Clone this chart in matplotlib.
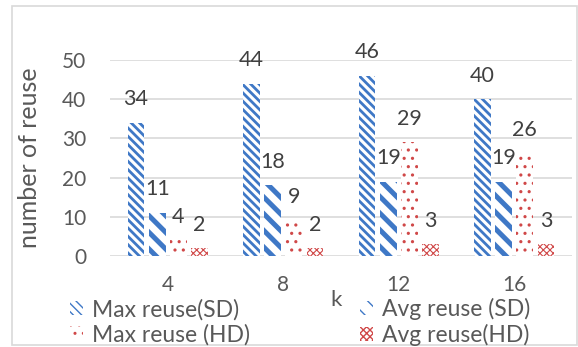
import matplotlib
matplotlib.use("Agg")
import matplotlib.pyplot as plt
from matplotlib.patches import Rectangle
import numpy as np

plt.rcParams['font.family'] = ['Lato', 'DejaVu Sans']

# data
k_values = ['4', '8', '12', '16']
max_reuse_sd = [34, 44, 46, 40]
avg_reuse_sd = [11, 18, 19, 19]
max_reuse_hd = [4, 9, 29, 26]
avg_reuse_hd = [2, 2, 3, 3]

BS = "\\"
series = [
    ("Max reuse(SD)", max_reuse_sd, "#3F78C6", BS * 4, 2.0),
    ("Avg reuse (SD)", avg_reuse_sd, "#3F78C6", BS * 2, 3.6),
    ("Max reuse (HD)", max_reuse_hd, "#D04848", "..", 1.1),
    ("Avg reuse(HD)", avg_reuse_hd, "#D04848", "xxxxx", 0.8),
]

text_color = "#595959"
label_color = "#404040"
grid_color = "#D9D9D9"

fig = plt.figure(figsize=(5.78, 3.47), dpi=100)
ax = fig.add_axes([110/578, 1-256/347, 462/578, 196/347])

x = np.arange(len(k_values))
width = 0.145
offsets = [-0.275, -0.09, 0.09, 0.275]

handles = []
for (label, vals, color, hatch, hlw), off in zip(series, offsets):
    with plt.rc_context({'hatch.linewidth': hlw}):
        bars = ax.bar(x + off, vals, width, facecolor="white", edgecolor=color,
                      linewidth=0, hatch=hatch, label=label, zorder=3)
    handles.append(bars)
    for xi, v in zip(x + off, vals):
        ax.annotate(str(v), (xi, v), xytext=(0, 17), textcoords="offset points",
                    ha="center", va="center", fontsize=15.5, color=label_color,
                    zorder=4)

ax.set_xlim(-0.5, 3.5)
ax.set_ylim(0, 50)
ax.set_yticks(range(0, 51, 10))
ax.set_xticks(x)
ax.set_xticklabels(k_values)
ax.grid(axis='y', color=grid_color, linewidth=1.2, zorder=0)
ax.set_axisbelow(True)
for s in ax.spines.values():
    s.set_visible(False)
ax.tick_params(axis='both', length=0, labelsize=15, colors=text_color)
ax.tick_params(axis='y', pad=17)
ax.tick_params(axis='x', pad=14)
ax.set_ylabel("number of reuse", fontsize=18, color=text_color)
ax.yaxis.set_label_coords(-69/462, 0.5)
ax.set_xlabel("k", fontsize=16, color=text_color)
ax.xaxis.set_label_coords(226/462, -34/196)

order = [handles[0], handles[2], handles[1], handles[3]]
labels = [series[0][0], series[2][0], series[1][0], series[3][0]]
leg = fig.legend(order, labels, ncol=2, loc="center left",
                 bbox_to_anchor=(70/578, 1-322/347), frameon=False,
                 borderpad=0, borderaxespad=0,
                 fontsize=16.5, labelcolor=text_color, handlelength=0.55,
                 handleheight=0.55, handletextpad=0.42, columnspacing=4.8,
                 labelspacing=0.15)

# outer chart border
fig.patches.append(Rectangle((12/578, 2/347), 565/578, 339/347,
                             transform=fig.transFigure, fill=False,
                             edgecolor=grid_color, linewidth=1.2))

fig.savefig("out.png", dpi=100)
